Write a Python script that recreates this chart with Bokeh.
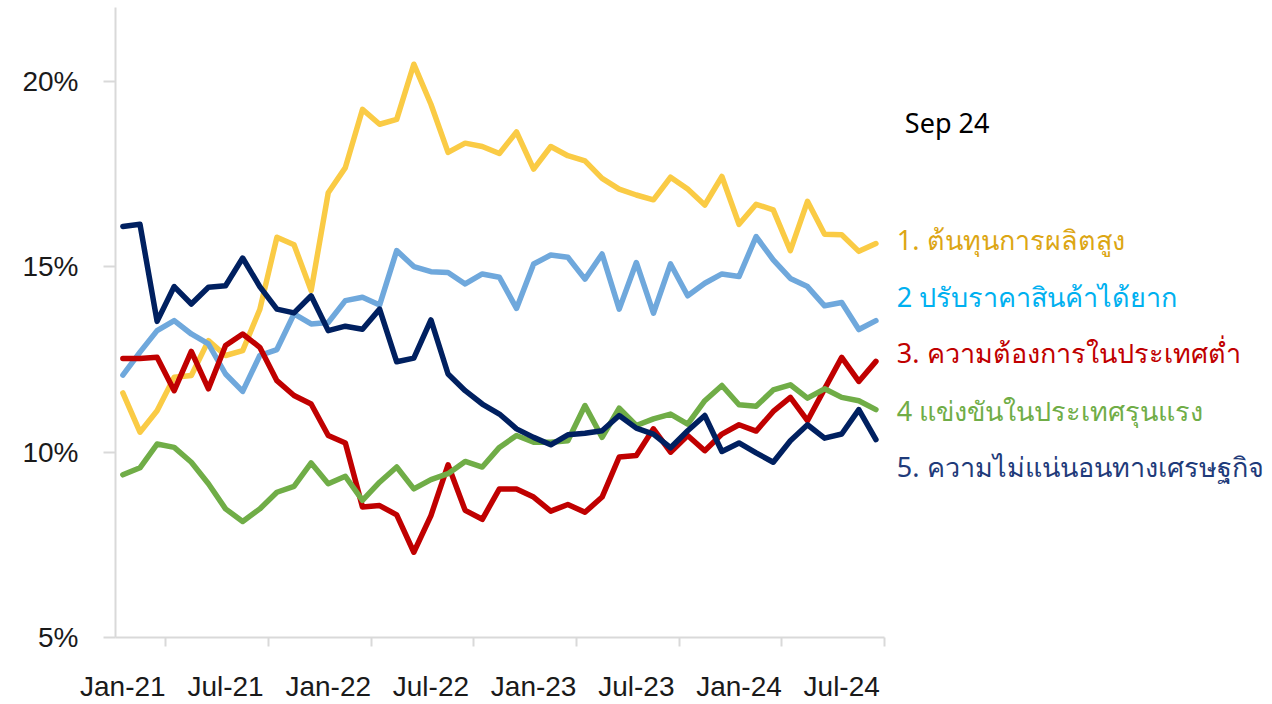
from bokeh.plotting import figure
from bokeh.models import FixedTicker, Range1d, PrintfTickFormatter
from bokeh.embed import file_html
from bokeh.resources import INLINE
from bokeh.core.properties import value

# ---------------- data ----------------
month_names = ["Jan", "Feb", "Mar", "Apr", "May", "Jun",
               "Jul", "Aug", "Sep", "Oct", "Nov", "Dec"]
years = ["21", "22", "23", "24"]
months = [f"{m}-{y}" for y in years for m in month_names][:45]   # Jan-21 .. Sep-24
x = list(range(len(months)))

cost_high = [11.6, 10.54, 11.12, 12.02, 12.07, 13.01, 12.61, 12.74, 13.85, 15.8, 15.6,
             14.36, 17.0, 17.68, 19.25, 18.85, 18.98, 20.47, 19.39, 18.09, 18.34, 18.25,
             18.06, 18.64, 17.64, 18.25, 18.0, 17.86, 17.39, 17.1, 16.94, 16.81, 17.42,
             17.1, 16.67, 17.44, 16.15, 16.69, 16.54, 15.44, 16.77, 15.88, 15.87, 15.42, 15.63]
price_adjust = [12.08, 12.7, 13.28, 13.55, 13.19, 12.92, 12.11, 11.64, 12.61, 12.77, 13.73,
                13.46, 13.5, 14.09, 14.18, 13.97, 15.44, 15.01, 14.87, 14.85, 14.54, 14.81,
                14.72, 13.88, 15.08, 15.32, 15.26, 14.67, 15.35, 13.86, 15.12, 13.75, 15.08,
                14.22, 14.56, 14.81, 14.74, 15.82, 15.19, 14.69, 14.47, 13.95, 14.04, 13.31, 13.55]
low_demand = [12.53, 12.53, 12.56, 11.66, 12.72, 11.71, 12.88, 13.19, 12.83, 11.93, 11.53,
              11.3, 10.45, 10.25, 8.52, 8.56, 8.31, 7.3, 8.29, 9.66, 8.43, 8.19,
              9.01, 9.01, 8.79, 8.41, 8.59, 8.38, 8.79, 9.87, 9.91, 10.63, 10.0,
              10.45, 10.04, 10.49, 10.74, 10.57, 11.1, 11.48, 10.85, 11.71, 12.56, 11.91, 12.45]
competition = [9.39, 9.58, 10.22, 10.13, 9.73, 9.15, 8.47, 8.13, 8.47, 8.92, 9.08,
               9.71, 9.15, 9.35, 8.7, 9.19, 9.6, 9.01, 9.26, 9.42, 9.75, 9.6,
               10.13, 10.45, 10.27, 10.27, 10.31, 11.26, 10.4, 11.19, 10.72, 10.9, 11.03,
               10.76, 11.39, 11.8, 11.28, 11.24, 11.68, 11.82, 11.46, 11.71, 11.48, 11.39, 11.15]
uncertainty = [16.09, 16.15, 13.53, 14.47, 14.0, 14.45, 14.49, 15.24, 14.47, 13.86, 13.76,
               14.22, 13.28, 13.4, 13.32, 13.86, 12.44, 12.54, 13.57, 12.11, 11.66, 11.3,
               11.03, 10.63, 10.4, 10.2, 10.47, 10.51, 10.58, 10.99, 10.65, 10.49, 10.12,
               10.58, 10.99, 10.02, 10.25, 9.98, 9.73, 10.31, 10.74, 10.38, 10.49, 11.15, 10.34]

series_names = ["1. ต้นทุนการผลิตสูง",
                "2 ปรับราคาสินค้าได้ยาก",
                "3. ความต้องการในประเทศต่ำ",
                "4 แข่งขันในประเทศรุนแรง",
                "5. ความไม่แน่นอนทางเศรษฐกิจ"]
series_values = [cost_high, price_adjust, low_demand, competition, uncertainty]
line_colors = ["#FACB45", "#6FA8DC", "#C00000", "#70AD47", "#002060"]
text_colors = ["#DCA614", "#00B0F0", "#C00000", "#70AD47", "#1F3B7A"]
legend_y = [15.74, 14.19, 12.70, 11.13, 9.61]
latest_label = "Sep 24"

y_ticks = [5, 10, 15, 20]
x_label_pos = [0, 6, 12, 18, 24, 30, 36, 42]
x_tick_marks = [2.5, 8.5, 14.5, 20.5, 26.5, 32.5, 38.5, 44.5]

# ---------------- figure ----------------
AXIS_FONT = "Liberation Sans"
TEXT_FONT = "Noto Sans"

# frame spans to the right edge so that the side texts can be drawn as glyphs;
# the x axis itself is bounded to the data period
p = figure(width=1272, height=704, output_backend="svg", toolbar_location=None,
           x_range=Range1d(-0.43, 67.17), y_range=Range1d(5, 22),
           min_border_left=115, min_border_right=0, min_border_top=7,
           min_border_bottom=67)
p.outline_line_color = None
p.xgrid.visible = False
p.ygrid.visible = False
p.background_fill_color = "white"
p.border_fill_color = "white"

for vals, col in zip(series_values, line_colors):
    p.line(x, vals, line_color=col, line_width=5.5, line_join="round", line_cap="round")

# y axis
ya = p.yaxis[0]
ya.ticker = FixedTicker(ticks=y_ticks, minor_ticks=[])
ya.formatter = PrintfTickFormatter(format="%d%%")
ya.axis_line_color = "#D9D9D9"
ya.axis_line_width = 2
ya.major_tick_line_color = "#D9D9D9"
ya.major_tick_line_width = 2
ya.major_tick_out = 12
ya.major_tick_in = 0
ya.minor_tick_line_color = None
ya.major_label_standoff = 25
ya.major_label_text_font = AXIS_FONT
ya.major_label_text_font_size = "28px"
ya.major_label_text_color = "#1A1A1A"

# x axis
xa = p.xaxis[0]
xa.bounds = (-0.43, 44.5)
xa.ticker = FixedTicker(ticks=x_label_pos, minor_ticks=x_tick_marks)
xa.major_label_overrides = {i: months[i] for i in x_label_pos}
xa.axis_line_color = "#D9D9D9"
xa.axis_line_width = 2
xa.major_tick_line_color = None
xa.minor_tick_line_color = "#D9D9D9"
xa.minor_tick_line_width = 2
xa.minor_tick_out = 9
xa.minor_tick_in = 0
xa.major_tick_out = 9
xa.major_tick_in = 0
xa.major_label_standoff = 24
xa.major_label_text_font = AXIS_FONT
xa.major_label_text_font_size = "28px"
xa.major_label_text_color = "#1A1A1A"

# right-hand texts
p.text(x=[45.69], y=[18.90], text=[latest_label], text_font=value(TEXT_FONT),
       text_font_size="27px", text_color="#000000", text_baseline="alphabetic")
p.text(x=[45.22] * len(series_names), y=legend_y, text=series_names,
       text_font=value(TEXT_FONT), text_font_size="27px", text_color=text_colors,
       text_baseline="alphabetic")

open("out.html", "w").write(file_html(p, INLINE))
